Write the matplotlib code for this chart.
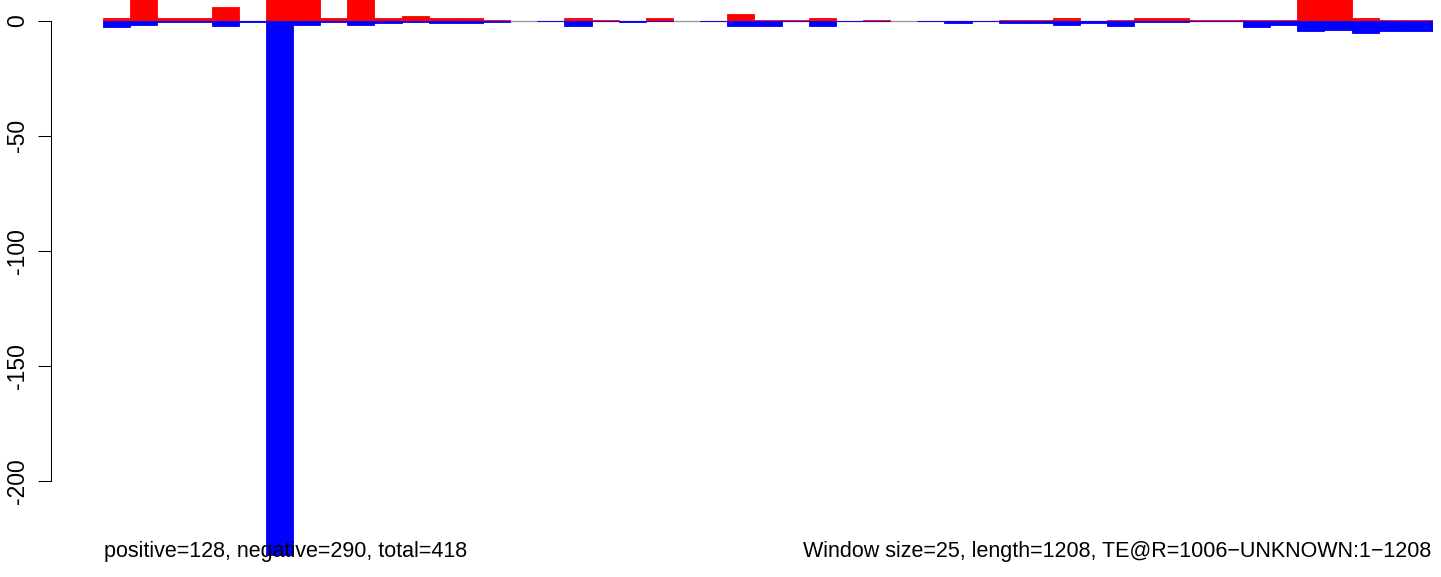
import numpy as np
import matplotlib
matplotlib.use("Agg")
import matplotlib.pyplot as plt

plt.rcParams['font.family'] = ['Liberation Sans', 'DejaVu Sans']

# window index (1..49), 25 bp windows over 1208 bp
windows = np.arange(1, 50)

# positive-strand (red) values per window; np.nan = no data
positive = [1.0, 14, 1.3, 1.3, 6.0, 0, 30, 16, 1.3, 12,
            1.3, 2.2, 1.0, 1.0, 0.3, np.nan, 0, 1.0, 0.3, 0,
            1.0, np.nan, 0, 2.7, 0.5, 0.5, 1.3, 0, 0.3, np.nan,
            0, 0, 0, 0.3, 0.3, 1.0, 0, 0.3, 1.0, 1.0,
            0.5, 0.5, 0.5, 0.5, 14, 12, 1.3, 0.3, 0.3]

# negative-strand (blue) magnitudes per window
negative = [2.9, 2.0, 0.7, 0.7, 2.4, 0.7, 232.4, 2.0, 0.7, 2.0,
            1.1, 0.4, 1.1, 1.1, 0.7, np.nan, 0.3, 2.4, 0.3, 0.4,
            0.3, np.nan, 0.3, 2.4, 2.4, 0.3, 2.4, 0.3, 0.3, np.nan,
            0.3, 0.9, 0.3, 0.9, 0.9, 1.7, 0.9, 2.2, 0.4, 0.5,
            0.3, 0.3, 2.6, 1.9, 4.6, 3.9, 5.5, 4.6, 4.6]

yticks = [0, -50, -100, -150, -200]
left_text = "positive=128, negative=290, total=418"
right_text = "Window size=25, length=1208, TE@R=1006\u2212UNKNOWN:1\u22121208"

W, H, DPI = 1441, 577, 100
fig = plt.figure(figsize=(W / DPI, H / DPI), dpi=DPI)
ax = fig.add_axes([103 / W, 0, 1330 / W, 1])

pos = np.array(positive, dtype=float)
neg = np.array(negative, dtype=float)
x = windows - 0.5

ax.axhline(0, color='#999999', lw=1.0, zorder=1)
m = ~np.isnan(pos)
ax.bar(x[m], pos[m], width=1.0, color='red', edgecolor='red', lw=0.6, zorder=2)
m = ~np.isnan(neg)
ax.bar(x[m], -neg[m], width=1.0, color='blue', edgecolor='blue', lw=0.6, zorder=3)

ax.set_xlim(0, len(windows))
ax.set_ylim(-241.9, 9.0)

for s in ['top', 'right', 'bottom']:
    ax.spines[s].set_visible(False)
ax.spines['left'].set_position(('outward', 52.3 * 72 / DPI))
ax.spines['left'].set_bounds(-200, 0)
ax.spines['left'].set_linewidth(0.75)
ax.set_xticks([])
ax.set_yticks(yticks)
ax.set_yticklabels([f"{t}" for t in yticks], rotation=90, va='center', fontsize=16.5)
ax.tick_params(axis='y', length=13.4 * 72 / DPI, width=0.75, pad=6)

fig.text(104 / W, 20.3 / H, left_text, fontsize=15.5, ha='left', va='baseline', zorder=10)
fig.text(1431 / W, 20.3 / H, right_text, fontsize=15.5, ha='right', va='baseline', zorder=10)

fig.savefig("out.png", dpi=DPI)
